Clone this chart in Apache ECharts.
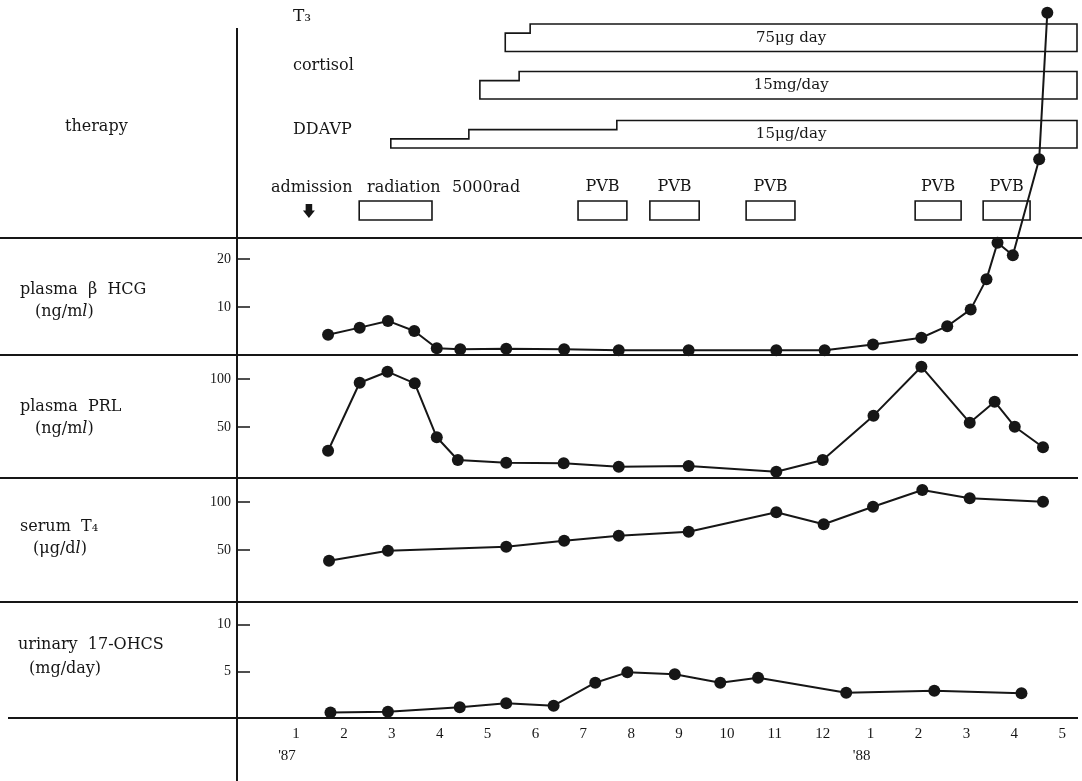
<!DOCTYPE html>
<html><head><meta charset="utf-8">
<script src="https://cdn.jsdelivr.net/npm/echarts@6/dist/echarts.min.js"></script>
<style>html,body{margin:0;padding:0;background:#fff}#c{width:1082px;height:781px}</style>
</head><body><div id="c"></div>
<script>
// ---------- DATA (x = months counted from January 1987: 0 = Jan '87, 12 = Jan '88) ----------
const monthTicks  = [0,1,2,3,4,5,6,7,8,9,10,11,12,13,14,15,16];
const monthLabels = ['1','2','3','4','5','6','7','8','9','10','11','12','1','2','3','4','5'];
const yearTickMonths = [0, 12];
const yearTickLabels = ["'87", "'88"];

const hcgTicks = [10, 20];
const prlTicks = [50, 100];
const t4Ticks = [50, 100];
const ohcsTicks = [5, 10];

const hcgMonths = [0.67,1.33,1.92,2.47,2.94,3.43,4.39,5.60,6.74,8.20,10.03,11.04,12.05,13.06,13.60,14.09,14.42,14.65,14.97,15.52,15.69];
const hcgValues = [4.2,5.7,7.1,5.0,1.4,1.2,1.3,1.2,1.0,1.0,1.0,1.0,2.2,3.6,6.0,9.5,15.8,23.4,20.8,40.8,71.3];

const prlMonths = [0.67,1.33,1.91,2.48,2.94,3.38,4.39,5.59,6.74,8.20,10.03,11.00,12.06,13.06,14.07,14.59,15.01,15.60];
const prlValues = [25.3,96.1,107.6,95.5,39.3,15.6,12.8,12.2,8.6,9.4,3.4,15.6,61.8,112.8,54.5,76.4,50.3,28.9];

const t4Months = [0.69,1.92,4.39,5.60,6.74,8.20,10.03,11.02,12.05,13.08,14.07,15.60];
const t4Values = [38.9,49.3,53.4,59.7,64.9,69.1,89.3,76.8,95.1,112.5,103.9,100.3];

const ohcsMonths = [0.72,1.92,3.42,4.39,5.38,6.25,6.92,7.91,8.86,9.65,11.49,13.33,15.15];
const ohcsValues = [0.59,0.68,1.15,1.58,1.32,3.79,4.90,4.70,3.79,4.32,2.71,2.93,2.65];

// therapy (dose steps: start month of each step and dose)
const therapyNames = ['DDAVP', 'cortisol', 'T\u2083'];
const ddavpStepMonths = [1.98, 3.61, 6.70];
const ddavpDoses = [5, 10, 15];
const cortisolStepMonths = [3.84, 4.66];
const cortisolDoses = [10, 15];
const t3StepMonths = [4.37, 4.89];
const t3Doses = [50, 75];
const doseLabels = ['15\u03bcg/day', '15mg/day', '75\u03bcg day'];
const therapyEndMonth = 16.31;

const treatmentNames = ['radiation', 'PVB', 'PVB', 'PVB', 'PVB', 'PVB'];
const treatmentStart = [1.32, 5.89, 7.39, 9.40, 12.93, 14.35];
const treatmentEnd   = [2.84, 6.91, 8.42, 10.42, 13.89, 15.33];
const admissionMonth = 0.27;

// ---------- LAYOUT / STYLE ----------
const INK = '#161616';
const SERIF = 'DejaVu Serif';
const NUM = 'Liberation Serif';
const X_MIN = -1.232, X_MAX = 16.31;
const L = 237, R = 5;
const ROW_PX = 48.5;
const THERAPY_H = 238;
const THERAPY_BASE = [(THERAPY_H-148)/ROW_PX, (THERAPY_H-99)/ROW_PX, (THERAPY_H-51.5)/ROW_PX];
const BAR_H = 27.5/ROW_PX;
const BOX_BASE = (THERAPY_H-220)/ROW_PX, BOX_TOP = (THERAPY_H-201)/ROW_PX;
const ARROW_Y = (THERAPY_H-211)/ROW_PX;
const DOSE_LABEL_MONTH = 10.34;

const therapySteps = [ddavpStepMonths, cortisolStepMonths, t3StepMonths];
const therapyDoses = [ddavpDoses, cortisolDoses, t3Doses];

const grids = [
  {left:L, right:R, top:0,   height:THERAPY_H},
  {left:L, right:R, top:238, height:117},
  {left:L, right:R, top:355, height:120},
  {left:L, right:R, top:478, height:120},
  {left:L, right:R, top:602, height:116}
];
const yMax = [THERAPY_H/ROW_PX, 117/4.8, 125, 125, 116/9.32];
const yTicks = [null, hcgTicks, prlTicks, t4Ticks, ohcsTicks];

const xAxes = grids.map((g,i)=>({
  type:'value', gridIndex:i, min:X_MIN, max:X_MAX,
  show: i===4,
  axisLine:{show:false, onZero:false}, axisTick:{show:false}, splitLine:{show:false},
  axisLabel:{
    show: i===4, customValues: monthTicks, margin: 8,
    fontFamily: NUM, fontSize: 15, color: INK, lineHeight: 16,
    formatter: (v)=>{
      const k = monthTicks.indexOf(v);
      if (k < 0) return '';
      const yi = yearTickMonths.indexOf(v);
      return monthLabels[k] + (yi >= 0 ? '\n{yr|' + yearTickLabels[yi] + '}' : '');
    },
    rich:{ yr:{fontFamily:NUM, fontSize:15, color:INK, lineHeight:28, padding:[0,18,0,0]} }
  }
}));

const yAxes = grids.map((g,i)=>({
  type:'value', gridIndex:i, min:0, max:yMax[i], position:'left',
  show: i>0,
  axisLine:{show:false, onZero:false}, splitLine:{show:false},
  axisTick: i>0 ? {show:true, inside:true, length:13, customValues:yTicks[i], lineStyle:{color:INK, width:1.5}} : {show:false},
  axisLabel: i>0 ? {show:true, customValues:yTicks[i], margin:6, fontFamily:NUM, fontSize:14, color:INK} : {show:false}
}));

function lineSeries(idx, months, values, z){
  return {
    type:'line', xAxisIndex:idx, yAxisIndex:idx, clip:false, z:z||3,
    data: months.map((m,i)=>[m, values[i]]),
    symbol:'circle', symbolSize:12, showAllSymbol:true,
    lineStyle:{color:INK, width:2}, itemStyle:{color:INK, opacity:1},
    emphasis:{disabled:true}, silent:true, animation:false
  };
}

function renderTherapy(params, api){
  const k = params.dataIndex;
  const steps = therapySteps[k], doses = therapyDoses[k];
  const maxDose = Math.max.apply(null, doses);
  const base = THERAPY_BASE[k];
  const pts = [api.coord([steps[0], base])];
  steps.forEach((s,i)=>{
    const top = base + BAR_H * doses[i] / maxDose;
    const e = i < steps.length-1 ? steps[i+1] : therapyEndMonth;
    pts.push(api.coord([s, top]));
    pts.push(api.coord([e, top]));
  });
  pts.push(api.coord([therapyEndMonth, base]));
  const mid = api.coord([DOSE_LABEL_MONTH, base + BAR_H/2]);
  return {type:'group', children:[
    {type:'polygon', shape:{points:pts}, style:{fill:'none', stroke:INK, lineWidth:1.6}},
    {type:'text', x:mid[0], y:mid[1], style:{text:doseLabels[k], fill:INK, fontFamily:SERIF, fontSize:15, align:'center', verticalAlign:'middle'}}
  ]};
}

function renderTreatment(params, api){
  const k = params.dataIndex;
  const p0 = api.coord([treatmentStart[k], BOX_TOP]);
  const p1 = api.coord([treatmentEnd[k], BOX_BASE]);
  const children = [
    {type:'rect', shape:{x:p0[0], y:p0[1], width:p1[0]-p0[0], height:p1[1]-p0[1]}, style:{fill:'none', stroke:INK, lineWidth:1.6}}
  ];
  if (treatmentNames[k] === 'PVB') {
    children.push({type:'text', x:(p0[0]+p1[0])/2, y:p0[1]-14, style:{text:'PVB', fill:INK, fontFamily:SERIF, fontSize:16, align:'center', verticalAlign:'middle'}});
  }
  return {type:'group', children};
}

function txt(text, x, y, size, family, align){
  return {type:'text', x, y, style:{text, fill:INK, fontFamily:family||SERIF, fontSize:size||16, align:align||'left', verticalAlign:'middle', textAlign:align||'left', textVerticalAlign:'middle'}};
}
function hline(y, x1, x2){
  return {type:'line', shape:{x1, y1:y, x2, y2:y}, style:{stroke:INK, lineWidth:2}};
}
// unit labels with italic l
function unitLabel(pre, post, x, y){
  return {type:'text', x, y, style:{text:'{n|'+pre+'}{i|l}{n|'+post+'}', fontFamily:SERIF, fontSize:16, fill:INK, verticalAlign:'middle', textVerticalAlign:'middle',
    rich:{n:{fontFamily:SERIF, fontSize:16, fill:INK, color:INK}, i:{fontFamily:SERIF, fontSize:16, fontStyle:'italic', fill:INK, color:INK}}}};
}

const graphics = [
  {type:'line', shape:{x1:237, y1:28, x2:237, y2:781}, style:{stroke:INK, lineWidth:2}},
  hline(238, 0, 1082), hline(355, 0, 1078), hline(478, 0, 1078), hline(602, 0, 1078), hline(718, 8, 1078),
  txt('therapy', 65, 127, 16),
  txt('plasma  \u03b2  HCG', 20, 290, 16),
  unitLabel('(ng/m', ')', 35, 312),
  txt('plasma  PRL', 20, 407, 16),
  unitLabel('(ng/m', ')', 35, 429),
  txt('serum  T\u2084', 20, 527, 16),
  unitLabel('(\u03bcg/d', ')', 33, 549),
  txt('urinary  17-OHCS', 18, 645, 16),
  txt('(mg/day)', 29, 669, 16),
  txt('T\u2083', 293, 17, 17),
  txt('cortisol', 293, 66, 16),
  txt('DDAVP', 293, 130, 16),
  txt('admission', 271, 188, 16),
  txt('radiation', 367, 188, 16),
  txt('5000rad', 452, 188, 16)
];

const option = {
  animation:false,
  backgroundColor:'#fff',
  grid: grids,
  xAxis: xAxes,
  yAxis: yAxes,
  graphic: graphics,
  series: [
    {type:'custom', xAxisIndex:0, yAxisIndex:0, clip:false, z:2, silent:true,
     renderItem: renderTherapy, data: therapyNames.map((n,i)=>[therapySteps[i][0], THERAPY_BASE[i]])},
    {type:'custom', xAxisIndex:0, yAxisIndex:0, clip:false, z:2, silent:true,
     renderItem: renderTreatment, data: treatmentNames.map((n,i)=>[treatmentStart[i], BOX_BASE])},
    {type:'scatter', xAxisIndex:0, yAxisIndex:0, silent:true, z:2,
     symbol:'path://M2.5,0 L8.5,0 L8.5,6 L11,6 L5.5,13 L0,6 L2.5,6 Z', symbolSize:[12,14],
     itemStyle:{color:INK, opacity:1}, data:[[admissionMonth, ARROW_Y]]},
    lineSeries(1, hcgMonths, hcgValues, 6),
    lineSeries(2, prlMonths, prlValues),
    lineSeries(3, t4Months, t4Values),
    lineSeries(4, ohcsMonths, ohcsValues)
  ]
};
const chart = echarts.init(document.getElementById('c'));
chart.setOption(option);
</script></body></html>
